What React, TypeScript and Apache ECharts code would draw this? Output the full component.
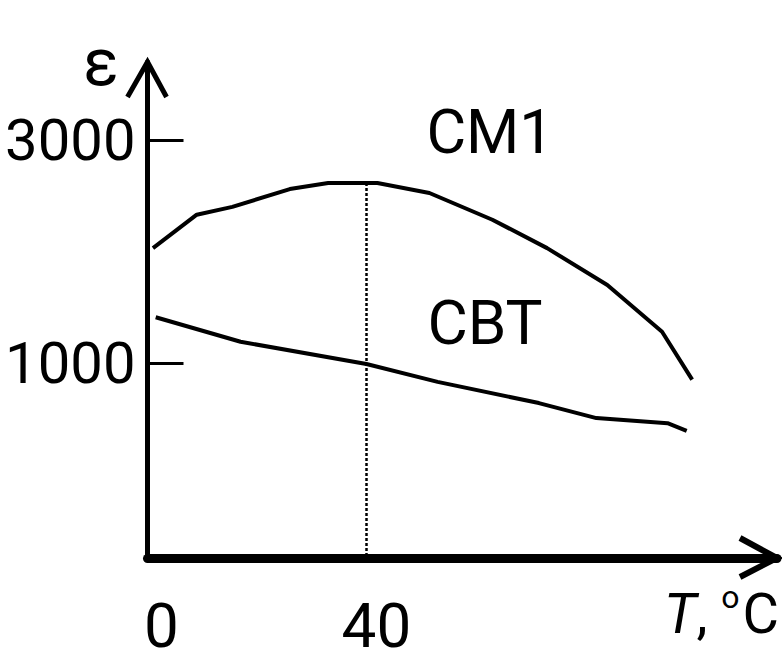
import React, { useEffect, useRef } from "react";
import * as echarts from "echarts";

// Temperature, °C
const cm1T = [1, 9, 15.5, 26, 33, 42, 51.5, 63, 73, 84, 94, 99.5];
// Permittivity of CM1
const cm1Eps = [2030, 2330, 2400, 2560, 2615, 2615, 2525, 2285, 2030, 1700, 1280, 850];

const cbtT = [1.5, 17, 40, 53, 71.5, 82, 95, 98.5];
const cbtEps = [1410, 1190, 990, 830, 640, 505, 460, 390];

const yTicks = [1000, 3000];
const xTicks = [0, 40];
const markerT = 40;
const markerEps = 2615;

const FONT = "Roboto, 'Liberation Sans', Arial, sans-serif";

const W = 782;
const H = 661;
const LEFT = 147.5;
const RIGHT = 5;
const TOP = 62;
const BOTTOM = 103;

export default function App() {
  const ref = useRef<HTMLDivElement>(null);

  useEffect(() => {
    if (!ref.current) return;
    const chart = echarts.init(ref.current, null, { renderer: "svg" });

    const toPairs = (xs: number[], ys: number[]) => xs.map((x, i) => [x, ys[i]]);

    const axisX = W - RIGHT;
    const axisY = H - BOTTOM;

    chart.setOption({
      animation: false,
      backgroundColor: "#ffffff",
      grid: {
        left: LEFT,
        right: RIGHT,
        top: TOP,
        bottom: BOTTOM,
        containLabel: false,
        outerBoundsMode: "none",
      },
      xAxis: {
        type: "value",
        min: 0,
        max: 115,
        interval: 40,
        splitLine: { show: false },
        axisTick: { show: false },
        axisLine: { show: true, onZero: false, lineStyle: { color: "#000", width: 9 } },
        axisLabel: {
          margin: 36,
          color: "#000",
          formatter: (v: number) =>
            v === xTicks[0] ? `{a|${v}}` : v === xTicks[1] ? `{b|${v}}` : "",
          rich: {
            a: { fontFamily: FONT, fontSize: 62, color: "#000", padding: [0, 0, 0, 28] },
            b: { fontFamily: FONT, fontSize: 62, color: "#000", padding: [0, 0, 0, 20] },
          },
        },
      },
      yAxis: {
        type: "value",
        min: -750,
        max: 3700,
        interval: 250,
        splitLine: { show: false },
        axisLine: { show: true, onZero: false, lineStyle: { color: "#000", width: 5 } },
        axisTick: {
          show: true,
          inside: true,
          length: 36,
          customValues: yTicks,
          lineStyle: { color: "#000", width: 3 },
        },
        axisLabel: {
          customValues: yTicks,
          margin: 12,
          color: "#000",
          fontFamily: FONT,
          fontSize: 58,
          formatter: (v: number) => String(v),
        },
      },
      series: [
        {
          name: "CM1",
          type: "line",
          data: toPairs(cm1T, cm1Eps),
          showSymbol: false,
          lineStyle: { color: "#000", width: 4 },
          markLine: {
            silent: true,
            symbol: ["none", "none"],
            label: { show: false },
            lineStyle: { color: "#000", width: 2.5, type: [3, 2] },
            data: [[{ coord: [markerT, markerEps] }, { coord: [markerT, -750] }]],
          },
        },
        {
          name: "CBT",
          type: "line",
          data: toPairs(cbtT, cbtEps),
          showSymbol: false,
          lineStyle: { color: "#000", width: 4 },
        },
      ],
      graphic: [
        // arrow heads on both axes
        {
          type: "polyline",
          shape: { points: [[axisX - 37, axisY - 20], [axisX, axisY], [axisX - 37, axisY + 19]] },
          style: { stroke: "#000", lineWidth: 6, fill: "none" },
        },
        {
          type: "polyline",
          shape: { points: [[LEFT - 20, TOP + 35], [LEFT, TOP], [LEFT + 19, TOP + 35]] },
          style: { stroke: "#000", lineWidth: 5, fill: "none" },
        },
        {
          type: "text",
          x: 101,
          y: 62,
          style: { text: "ε", fontFamily: FONT, fontSize: 66, fill: "#000", align: "center", verticalAlign: "middle" },
        },
        {
          type: "text",
          x: 490,
          y: 132,
          style: { text: "CM1", fontFamily: FONT, fontSize: 61, fill: "#000", align: "center", verticalAlign: "middle" },
        },
        {
          type: "text",
          x: 485,
          y: 322,
          style: { text: "CBT", fontFamily: FONT, fontSize: 62, fill: "#000", align: "center", verticalAlign: "middle" },
        },
        {
          type: "text",
          x: 779,
          y: 647,
          style: {
            text: "{t|T}{n|, }{d|o}{c|C}",
            align: "right",
            verticalAlign: "bottom",
            rich: {
              t: { fontFamily: FONT, fontSize: 56, fontStyle: "italic", fill: "#000" },
              n: { fontFamily: FONT, fontSize: 56, fill: "#000" },
              d: { fontFamily: FONT, fontSize: 32, fill: "#000", verticalAlign: "top", padding: [0, 3, 34, 0] },
              c: { fontFamily: FONT, fontSize: 56, fill: "#000" },
            },
          },
        },
      ],
    });

    return () => chart.dispose();
  }, []);

  return (
    <div
      ref={ref}
      style={{ position: "absolute", left: 0, top: 0, width: W, height: H, background: "#fff" }}
    />
  );
}
